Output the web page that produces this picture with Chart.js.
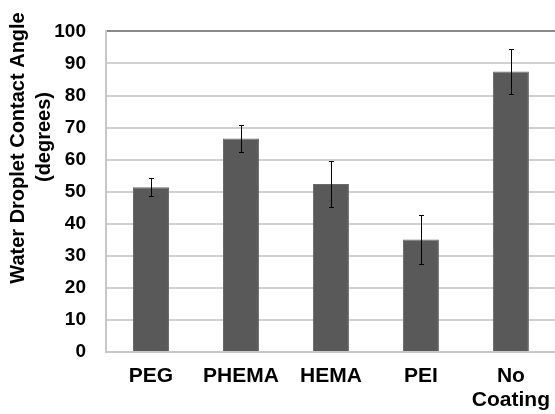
<!DOCTYPE html>
<html>
<head>
<meta charset="utf-8">
<script src="https://cdn.jsdelivr.net/npm/chart.js@4/dist/chart.umd.min.js"></script>
<style>
  html, body { margin: 0; padding: 0; background: #fff; overflow: hidden; }
  #wrap { width: 562px; height: 414px; }
</style>
</head>
<body>
<div id="wrap"><canvas id="grafico" width="562" height="414"></canvas></div>
<script>
// Datos
const categorias = ["PEG", "PHEMA", "HEMA", "PEI", ["No", "Coating"]];
const angulos = [51.4, 66.6, 52.4, 35.1, 87.5];
const errores = [2.8, 4.1, 7.3, 7.5, 6.9];
const ticksY = [0, 10, 20, 30, 40, 50, 60, 70, 80, 90, 100];
const tituloY = ["Water Droplet Contact Angle", "(degrees)"];

const fuente = "Liberation Sans, Arial, sans-serif";

// Barras de error
const barrasError = {
    id: "barrasError",
    afterDatasetsDraw(chart) {
        const ctx = chart.ctx;
        const yScale = chart.scales.y;
        const meta = chart.getDatasetMeta(0);
        ctx.save();
        ctx.strokeStyle = "#000";
        ctx.lineWidth = 1;
        meta.data.forEach((bar, i) => {
            const x = Math.round(bar.x) + 0.5;
            const yTop = Math.round(yScale.getPixelForValue(angulos[i] + errores[i])) + 0.5;
            const yBot = Math.round(yScale.getPixelForValue(angulos[i] - errores[i])) + 0.5;
            ctx.beginPath();
            ctx.moveTo(x, yTop);
            ctx.lineTo(x, yBot);
            ctx.moveTo(x - 2.5, yTop);
            ctx.lineTo(x + 2.5, yTop);
            ctx.moveTo(x - 2.5, yBot);
            ctx.lineTo(x + 2.5, yBot);
            ctx.stroke();
        });
        ctx.restore();
    }
};

// Titulo del eje Y (dos lineas, algo por encima del centro como en el original)
const tituloEje = {
    id: "tituloEje",
    afterDraw(chart) {
        const ctx = chart.ctx;
        const centros = [[18, 148], [44, 137]];
        ctx.save();
        ctx.fillStyle = "#000";
        ctx.font = "bold 20px " + fuente;
        ctx.textAlign = "center";
        ctx.textBaseline = "middle";
        tituloY.forEach((linea, i) => {
            ctx.save();
            ctx.translate(centros[i][0], centros[i][1]);
            ctx.rotate(-Math.PI / 2);
            ctx.fillText(linea, 0, 0);
            ctx.restore();
        });
        ctx.restore();
    }
};

const ctx = document.getElementById("grafico").getContext("2d");
new Chart(ctx, {
    type: "bar",
    data: {
        labels: categorias,
        datasets: [{
            data: angulos,
            backgroundColor: "#595959",
            borderColor: "#6a6a6a",
            borderWidth: 1,
            barPercentage: 0.4,
            categoryPercentage: 1.0
        }]
    },
    options: {
        responsive: false,
        animation: false,
        layout: { padding: { top: 11, left: 0, right: 0, bottom: 0 } },
        plugins: {
            legend: { display: false },
            tooltip: { enabled: false }
        },
        scales: {
            x: {
                grid: { display: false, drawTicks: false },
                border: { color: "#c8c8c8", width: 2 },
                ticks: {
                    color: "#000",
                    padding: 12,
                    maxRotation: 0,
                    font: { family: fuente, size: 21, weight: "bold", lineHeight: 1.14 }
                },
                afterFit(scale) { scale.height = 62; }
            },
            y: {
                min: 0,
                max: 100,
                afterBuildTicks(scale) { scale.ticks = ticksY.map((v) => ({ value: v })); },
                grid: {
                    drawTicks: false,
                    color: (c) => (c.tick && c.tick.value === 100 ? "#8a8a8a" : "#d0d0d0"),
                    lineWidth: 2
                },
                border: { color: "#c8c8c8", width: 2 },
                ticks: {
                    color: "#000",
                    padding: 20,
                    font: { family: fuente, size: 19, weight: "bold" }
                },
                afterFit(scale) { scale.width = 106; }
            }
        }
    },
    plugins: [barrasError, tituloEje]
});
</script>
</body>
</html>
